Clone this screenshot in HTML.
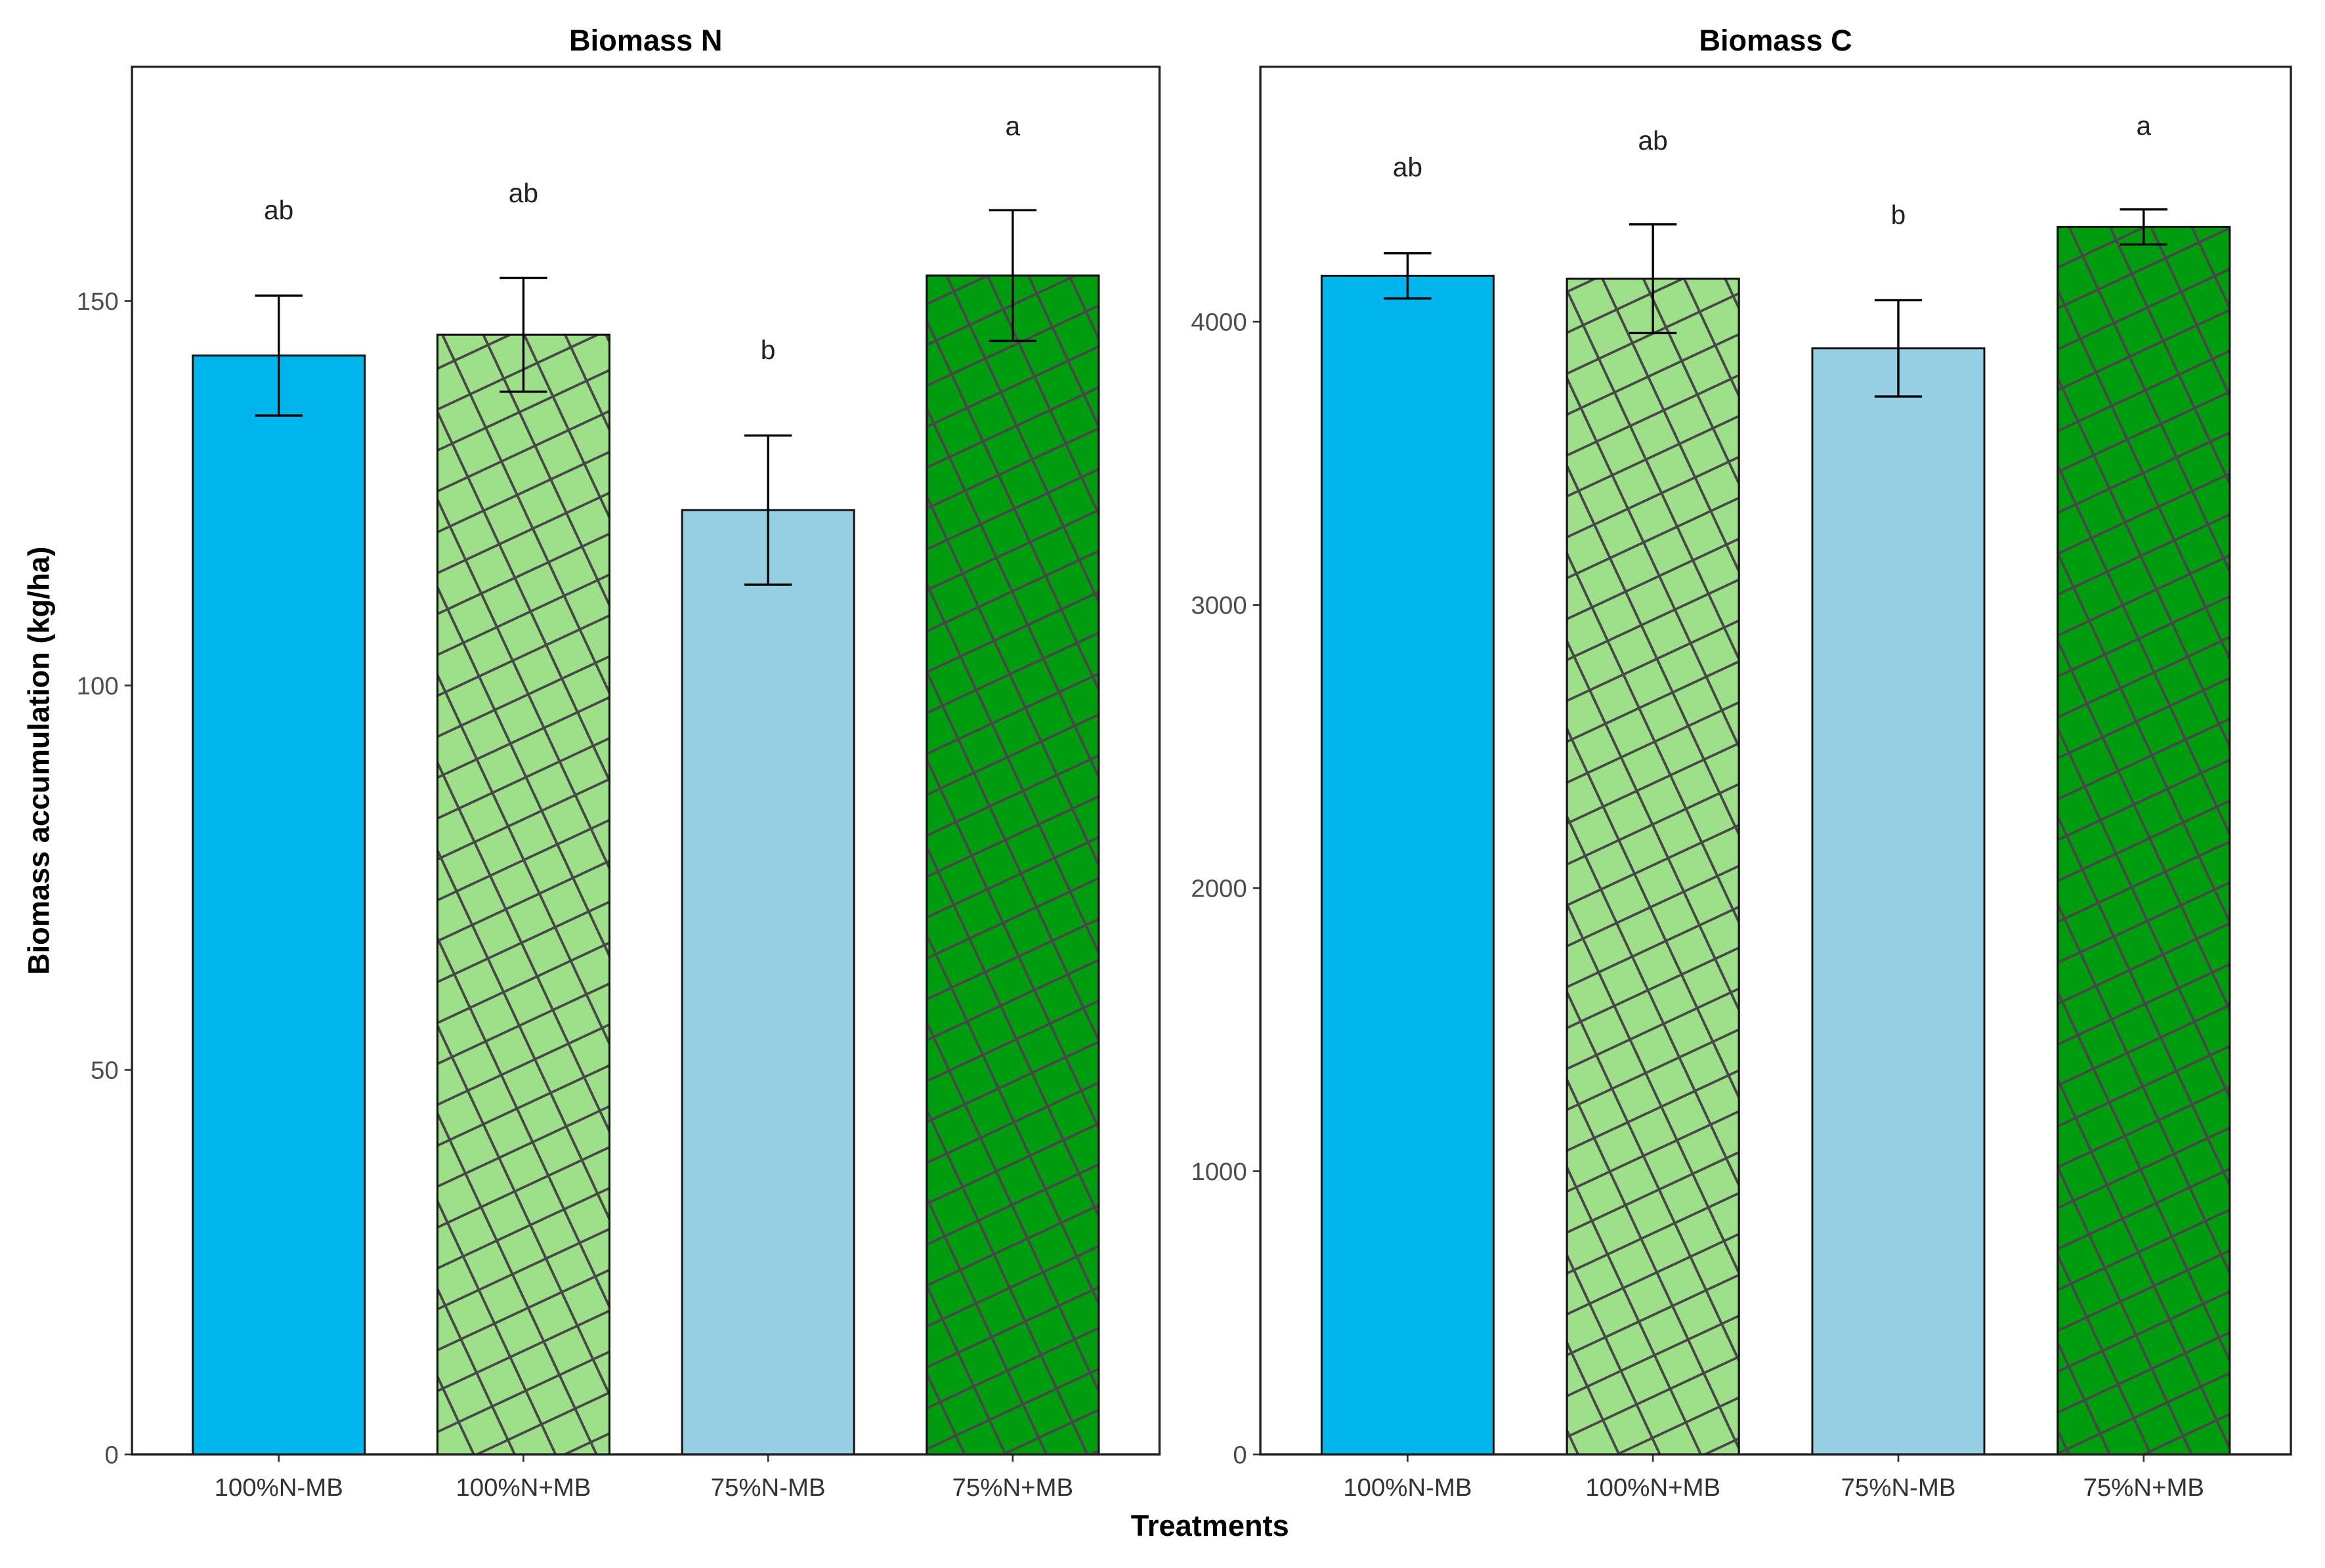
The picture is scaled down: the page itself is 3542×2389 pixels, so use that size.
<!DOCTYPE html>
<html><head><meta charset="utf-8"><style>
html,body{margin:0;padding:0;background:#fff;}
svg{display:block;font-family:"Liberation Sans",Arial,sans-serif;}
</style></head><body>
<svg id="chart" width="3542" height="2389" viewBox="0 0 1568 1057.6" preserveAspectRatio="none" xmlns="http://www.w3.org/2000/svg">
<defs>
<pattern id="hatch" patternUnits="userSpaceOnUse" width="25" height="25" patternTransform="rotate(-25)">
<line x1="0" y1="0" x2="25" y2="0" stroke="#474747" stroke-width="1.7"/>
<line x1="0" y1="25" x2="25" y2="25" stroke="#474747" stroke-width="1.7"/>
<line x1="0" y1="0" x2="0" y2="25" stroke="#474747" stroke-width="1.7"/>
<line x1="25" y1="0" x2="25" y2="25" stroke="#474747" stroke-width="1.7"/>
</pattern>
</defs>
<g id="root"></g>
</svg>
<script>
const categories = ["100%N-MB","100%N+MB","75%N-MB","75%N+MB"];
const nMeans = [142.9, 145.6, 122.8, 153.3];
const nErr = [7.8, 7.4, 9.7, 8.5];
const nLetters = ["ab","ab","b","a"];
const nLetterY = [161.8, 164.0, 143.6, 172.7];
const nTicks = [0, 50, 100, 150];
const cMeans = [4162, 4152, 3906, 4335];
const cErr = [80, 192, 170, 62];
const cLetters = ["ab","ab","b","a"];
const cLetterY = [4545, 4639, 4377, 4691];
const cTicks = [0, 1000, 2000, 3000, 4000];
const fills = ["#00b4ec","#9ee08a","#96cee4","#009c10"];
const hatched = [false, true, false, true];

const NS = "http://www.w3.org/2000/svg";
const root = document.getElementById("root");
function mk(tag, attrs, parent){
  const e = document.createElementNS(NS, tag);
  for (const k in attrs) e.setAttribute(k, attrs[k]);
  (parent||root).appendChild(e);
  return e;
}
function panel(opts){
  const {x0,x1,y0,y1,ymax,means,errs,letters,letterY,ticks,title,key} = opts;
  const g = mk("g", {});
  
  
  const ys = v => y1 - (v/ymax)*(y1 - y0);
  const step = (x1 - x0)/4.2;
  const xc = i => x0 + step*(0.6 + i);
  const barW = 116;
  const t = mk("text", {x:(x0+x1)/2, y:y0-11, "text-anchor":"middle", "font-size":20, "font-weight":"bold", fill:"#000"}, g);
  t.textContent = title;
  
  
  ticks.forEach(v => {
    const y = ys(v);
    const tl = mk("line", {x1:x0-5, x2:x0, y1:y, y2:y, stroke:"#333", "stroke-width":1.2}, g);
    
    
    const tx = mk("text", {x:x0-9, y:y+6, "text-anchor":"end", "font-size":17, fill:"#4d4d4d"}, g);
    tx.textContent = v;
    
    
  });
  means.forEach((m,i) => {
    const cx = xc(i);
    const r = mk("rect", {x:cx-barW/2, y:ys(m), width:barW, height:y1-ys(m), fill:fills[i], stroke:"#111", "stroke-width":1.3}, g);
    
    
    if (hatched[i]) {
      const h = mk("rect", {x:cx-barW/2, y:ys(m), width:barW, height:y1-ys(m), fill:"url(#hatch)", stroke:"#111", "stroke-width":1.3}, g);
      
      
    }
    const hi = ys(m+errs[i]), lo = ys(m-errs[i]);
    const eg = mk("g", {stroke:"#000", "stroke-width":1.5}, g);
    
    
    mk("line", {x1:cx, x2:cx, y1:hi, y2:lo}, eg);
    mk("line", {x1:cx-16, x2:cx+16, y1:hi, y2:hi}, eg);
    mk("line", {x1:cx-16, x2:cx+16, y1:lo, y2:lo}, eg);
    const lt = mk("text", {x:cx, y:ys(letterY[i])+6, "text-anchor":"middle", "font-size":18, fill:"#222"}, g);
    lt.textContent = letters[i];
    
    
    const xt = mk("line", {x1:cx, x2:cx, y1:y1, y2:y1+5, stroke:"#333", "stroke-width":1.2}, g);
    
    
    const xl = mk("text", {x:cx, y:y1+28, "text-anchor":"middle", "font-size":17, fill:"#333"}, g);
    xl.textContent = categories[i];
    
    
  });
  const fr = mk("rect", {x:x0, y:y0, width:x1-x0, height:y1-y0, fill:"none", stroke:"#222", "stroke-width":1.5}, g);
  
  
}
panel({x0:89, x1:782, y0:45, y1:981, ymax:150*(981-45)/(981-203), means:nMeans, errs:nErr, letters:nLetters, letterY:nLetterY, ticks:nTicks, title:"Biomass N", key:"biomass-n"});
panel({x0:850, x1:1545, y0:45, y1:981, ymax:4000*(981-45)/(981-217), means:cMeans, errs:cErr, letters:cLetters, letterY:cLetterY, ticks:cTicks, title:"Biomass C", key:"biomass-c"});
const yt = mk("text", {x:0, y:0, transform:"translate(33,513) rotate(-90)", "text-anchor":"middle", "font-size":20, "font-weight":"bold", fill:"#000"});
yt.textContent = "Biomass accumulation (kg/ha)";


const xt = mk("text", {x:816, y:1036, "text-anchor":"middle", "font-size":20, "font-weight":"bold", fill:"#000"});
xt.textContent = "Treatments";


</script>
</body></html>
